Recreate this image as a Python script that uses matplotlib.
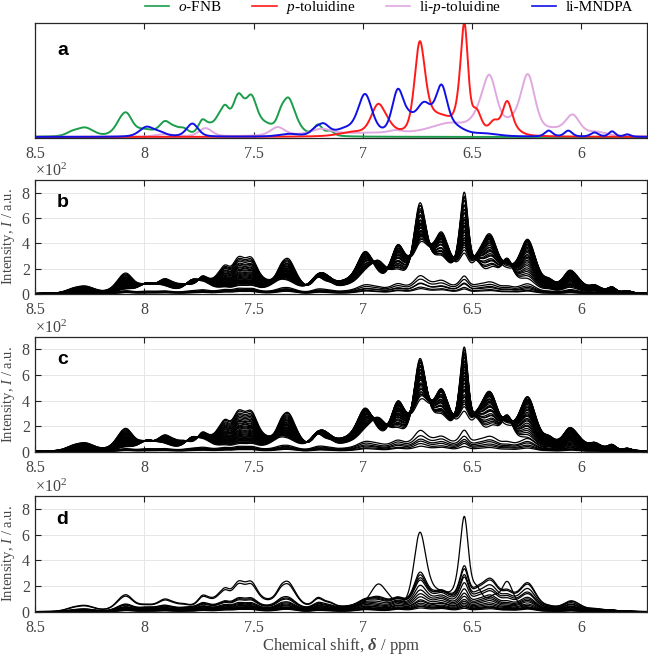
import numpy as np
import matplotlib
matplotlib.use('Agg')
import matplotlib.pyplot as plt
from matplotlib.ticker import ScalarFormatter, FixedLocator
from matplotlib.lines import Line2D

plt.rcParams['font.family'] = 'Liberation Serif'
plt.rcParams['mathtext.fontset'] = 'custom'
plt.rcParams['mathtext.rm'] = 'Liberation Serif'
plt.rcParams['mathtext.it'] = 'Liberation Serif:italic'
plt.rcParams['mathtext.bf'] = 'Liberation Serif:italic:bold'

# ---- peak lists of the pure components (panel a), heights relative to the tallest red peak
fnb_pos = [8.33, 8.27, 8.11, 8.08, 8.00, 7.905, 7.86, 7.82, 7.735, 7.70, 7.66, 7.63, 7.57, 7.51, 7.45, 7.375, 7.34, 7.30, 7.205, 7.15]
fnb_h   = [0.03, 0.07, 0.08, 0.14, 0.05, 0.11, 0.04, 0.05, 0.11, 0.05, 0.10, 0.17, 0.31, 0.27, 0.08, 0.10, 0.27, 0.05, 0.09, 0.04]
fnb_w   = [0.02, 0.025, 0.02, 0.018, 0.03, 0.018, 0.015, 0.015, 0.013, 0.015, 0.015, 0.013, 0.018, 0.017, 0.03, 0.013, 0.018, 0.02, 0.013, 0.013]

tol_pos = [7.05, 6.93, 6.88, 6.74, 6.70, 6.64, 6.56, 6.535, 6.48, 6.40, 6.34, 6.30]
tol_h   = [0.03, 0.25, 0.04, 0.72, 0.06, 0.14, 0.12, 0.84, 0.17, 0.10, 0.27, 0.03]
tol_w   = [0.04, 0.022, 0.02, 0.016, 0.02, 0.045, 0.012, 0.011, 0.015, 0.015, 0.015, 0.02]

lip_pos = [7.905, 7.72, 7.39, 7.19, 6.95, 6.85, 6.60, 6.47, 6.42, 6.32, 6.245, 6.13, 6.04, 5.93]
lip_h   = [0.02, 0.07, 0.07, 0.045, 0.03, 0.02, 0.09, 0.09, 0.44, 0.08, 0.48, 0.04, 0.16, 0.03]
lip_w   = [0.03, 0.02, 0.022, 0.03, 0.20, 0.02, 0.06, 0.025, 0.022, 0.03, 0.022, 0.04, 0.022, 0.03]

mnd_pos = [7.99, 7.93, 7.78, 7.34, 7.22, 7.18, 7.08, 6.99, 6.84, 6.79, 6.72, 6.64, 6.58, 6.44, 6.15, 6.06, 5.94, 5.86, 5.79]
mnd_h   = [0.08, 0.03, 0.11, 0.02, 0.04, 0.09, 0.05, 0.34, 0.36, 0.08, 0.25, 0.37, 0.06, 0.02, 0.05, 0.05, 0.035, 0.045, 0.02]
mnd_w   = [0.022, 0.02, 0.018, 0.03, 0.015, 0.018, 0.03, 0.022, 0.018, 0.018, 0.025, 0.018, 0.03, 0.04, 0.012, 0.012, 0.012, 0.01, 0.01]

names = [r'$\mathit{o}$-FNB', r'$\mathit{p}$-toluidine', r'li-$\mathit{p}$-toluidine', 'li-MNDPA']
colors = ['#1a9e4a', '#ff1a1a', '#e0a8e0', '#1010e6']

# ---- mixture weights (x10^2) of the spectra in panels b, c, d: green, red, pink, blue
b_fnb = [7.4, 7.0, 6.7, 6.4, 6.0, 5.8, 5.5, 5.2, 5.0, 4.7, 4.5, 4.2, 4.0, 3.8, 3.6, 3.4, 3.2, 3.0, 2.8, 2.7, 2.5, 2.4, 2.2, 2.1, 2.0, 1.9, 1.8, 1.7, 1.5, 1.4, 1.1, 0.9, 0.8, 0.7, 0.6, 0.5]
b_tol = [7.6, 7.2, 6.8, 7.0, 6.3, 5.9, 6.2, 5.5, 5.1, 5.4, 4.8, 4.5, 4.7, 4.2, 4.0, 4.1, 3.7, 3.5, 3.2, 3.4, 2.9, 2.7, 2.5, 2.8, 2.4, 2.2, 2.0, 2.3, 1.8, 1.6, 1.1, 0.9, 0.6, 0.7, 0.4, 0.3]
b_lip = [1.8, 2.2, 2.5, 2.8, 3.1, 3.4, 3.7, 4.0, 4.3, 4.5, 4.8, 5.0, 5.2, 5.4, 5.7, 5.9, 6.1, 6.3, 6.5, 6.7, 6.9, 7.0, 7.2, 7.3, 7.4, 7.5, 7.6, 7.7, 7.4, 7.0, 1.4, 1.1, 0.9, 0.7, 0.5, 0.4]
b_mnd = [2.7, 3.0, 3.2, 3.4, 3.6, 3.9, 4.1, 4.3, 4.5, 4.8, 5.0, 5.2, 5.4, 5.6, 5.8, 6.0, 6.1, 6.3, 6.5, 6.7, 6.8, 6.9, 7.0, 7.2, 7.3, 7.4, 7.5, 7.6, 7.7, 7.8, 1.5, 1.2, 0.9, 0.8, 0.6, 0.5]

c_fnb = [8.2, 7.9, 7.5, 7.2, 6.9, 6.6, 6.3, 6.0, 5.8, 5.5, 5.3, 5.0, 4.8, 4.6, 4.4, 4.1, 3.9, 3.7, 3.5, 3.3, 3.1, 2.9, 2.7, 2.6, 2.4, 2.3, 2.1, 1.9, 1.8, 1.6, 1.5, 1.3, 1.0, 0.8, 0.7, 0.6, 0.5, 0.4]
c_tol = [7.8, 7.5, 7.2, 7.0, 6.7, 6.9, 6.3, 6.0, 6.2, 5.7, 5.4, 5.6, 5.1, 4.8, 5.0, 4.5, 4.3, 4.4, 4.0, 3.7, 3.9, 3.4, 3.2, 3.3, 2.9, 2.7, 2.4, 2.6, 2.2, 2.0, 1.8, 1.5, 1.3, 0.9, 0.7, 0.6, 0.5, 0.3]
c_lip = [1.6, 2.0, 2.3, 2.6, 2.9, 3.2, 3.4, 3.7, 4.0, 4.2, 4.4, 4.7, 4.9, 5.1, 5.3, 5.6, 5.8, 6.0, 6.1, 6.3, 6.5, 6.7, 6.8, 6.9, 7.0, 7.2, 7.3, 7.5, 7.6, 7.7, 7.6, 7.2, 1.8, 1.4, 1.2, 0.9, 0.7, 0.5]
c_mnd = [2.5, 2.8, 3.1, 3.3, 3.5, 3.7, 4.0, 4.2, 4.4, 4.6, 4.9, 5.0, 5.2, 5.4, 5.6, 5.8, 6.0, 6.1, 6.3, 6.4, 6.6, 6.8, 6.9, 7.0, 7.1, 7.2, 7.4, 7.5, 7.6, 7.7, 7.9, 8.0, 1.6, 1.4, 1.1, 0.9, 0.6, 0.5]

d_fnb = [0.8, 6.0, 5.5, 2.7, 2.5, 2.3, 1.8, 1.6, 1.4, 1.2, 1.1, 0.9, 0.8, 0.7, 0.6, 0.5]
d_tol = [7.4, 2.9, 2.7, 2.3, 2.2, 1.8, 1.4, 1.1, 0.9, 0.7, 0.6, 0.5, 0.4, 0.3, 0.3, 0.2]
d_lip = [0.3, 4.0, 3.8, 3.2, 2.7, 2.5, 2.0, 1.8, 1.6, 1.4, 1.1, 0.9, 0.7, 0.6, 0.5, 0.4]
d_mnd = [0.2, 1.4, 1.3, 1.8, 1.6, 1.4, 1.4, 1.3, 1.1, 0.9, 0.9, 0.7, 0.6, 0.5, 0.5, 0.4]

xticks = [8.5, 8, 7.5, 7, 6.5, 6]
tick_color = '#454545'


def spectrum(x, pos, h, w, broad):
    y = np.zeros_like(x)
    for c, a, s in zip(pos, h, w):
        u = (x - c) / (s * broad)
        y += a * (0.6 * np.exp(-np.log(2) * u ** 2) + 0.4 / (1 + u ** 2))
    return y


x = np.linspace(8.5, 5.7, 1400)
peak_lists = [(fnb_pos, fnb_h, fnb_w), (tol_pos, tol_h, tol_w),
              (lip_pos, lip_h, lip_w), (mnd_pos, mnd_h, mnd_w)]
comps = [spectrum(x, p, h, w, 1.75) for p, h, w in peak_lists]
comps_mix = [spectrum(x, p, h, w, 2.0) for p, h, w in peak_lists]

fig = plt.figure(figsize=(6.48, 6.59), dpi=100)
W, H = 648.0, 659.0
left, right = 35 / W, 647 / W
boxes = [(22.7, 137.7), (180, 294), (336.7, 451.7), (496, 612)]
axes = []
for top, bot in boxes:
    ax = fig.add_axes([left, 1 - bot / H, right - left, (bot - top) / H])
    axes.append(ax)


def style(ax):
    ax.set_xlim(8.5, 5.7)
    ax.xaxis.set_major_locator(FixedLocator(xticks))
    ax.set_xticklabels(['%g' % t for t in xticks])
    ax.tick_params(direction='in', top=True, right=True, length=4, width=0.8,
                   labelsize=11.5, labelcolor=tick_color, color='#202020', pad=3)
    ax.tick_params(axis='x', pad=6)
    for s in ax.spines.values():
        s.set_color('#262626')
        s.set_linewidth(0.9)


# panel a
ax = axes[0]
for i in [0, 2, 1, 3]:
    ax.plot(x, comps[i], color=colors[i], lw=1.4)
ax.set_ylim(-0.006, max(c.max() for c in comps))
style(ax)
ax.set_yticks([])
ax.tick_params(right=False, left=False)
ax.text(0.045, 0.76, 'a', transform=ax.transAxes, ha='center', va='center',
        fontsize=14, fontweight='bold', family='Liberation Sans')

handles = [Line2D([], [], color=colors[i], lw=1.2) for i in range(4)]
fig.legend(handles, names, loc='center', bbox_to_anchor=(0.6, 0.988), ncol=4,
           frameon=False, fontsize=11, handlelength=1.6, handletextpad=0.6,
           columnspacing=2.0, borderaxespad=0)

panels = [(b_fnb, b_tol, b_lip, b_mnd, 'b'),
          (c_fnb, c_tol, c_lip, c_mnd, 'c'),
          (d_fnb, d_tol, d_lip, d_mnd, 'd')]
for ax, (g, r, p, bl, letter) in zip(axes[1:], panels):
    for k in range(len(g)):
        y = 100 * (g[k] * comps_mix[0] + r[k] * comps_mix[1] + p[k] * comps_mix[2] + bl[k] * comps_mix[3])
        ax.plot(x, y, color='black', lw=0.9)
    style(ax)
    ax.set_ylim(0, 900)
    ax.set_yticks([0, 200, 400, 600, 800])
    fmt = ScalarFormatter(useMathText=True)
    fmt.set_powerlimits((2, 2))
    ax.yaxis.set_major_formatter(fmt)
    ax.yaxis.get_offset_text().set_fontsize(11.5)
    ax.yaxis.get_offset_text().set_color(tick_color)
    ax.grid(True, color='#e6e6e6', lw=0.7)
    ax.set_axisbelow(True)
    ax.set_ylabel(r'Intensity, $\mathit{I}$ / a.u.', fontsize=10.5, color=tick_color)
    ax.yaxis.set_label_coords(-0.029, 0.5)
    ax.text(0.045, 0.8, letter, transform=ax.transAxes, ha='center', va='center',
            fontsize=14, fontweight='bold', family='Liberation Sans')

axes[3].set_xlabel(r'Chemical shift, $\mathbf{\delta}$ / ppm', fontsize=12,
                   color=tick_color, labelpad=0)

fig.savefig('out.png', dpi=100)
